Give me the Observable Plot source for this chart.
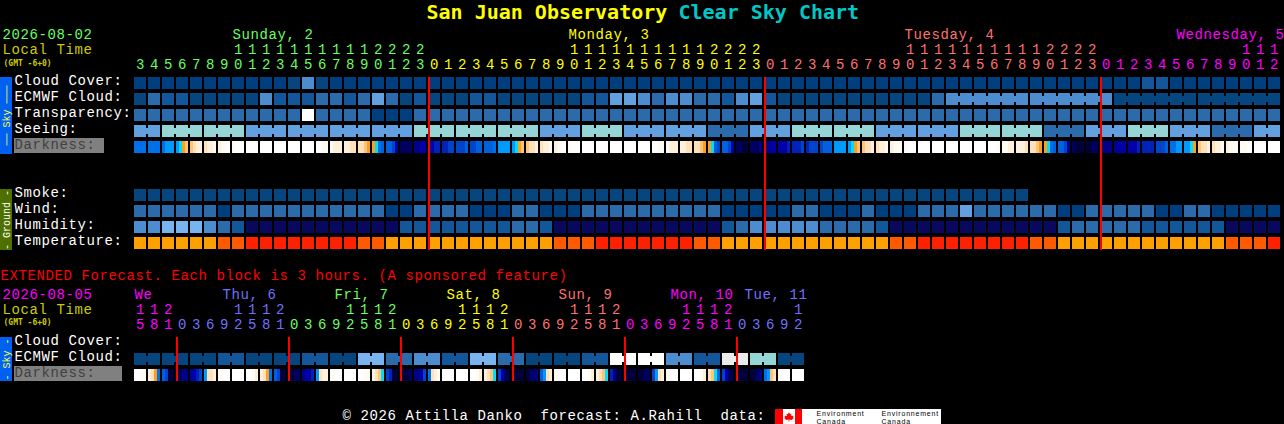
<!DOCTYPE html>
<html><head><meta charset="utf-8">
<script src="https://cdn.jsdelivr.net/npm/d3@7"></script>
<script src="https://cdn.jsdelivr.net/npm/@observablehq/plot@0.6"></script>
<style>html,body{margin:0;padding:0;background:#000;overflow:hidden}svg{display:block}svg text{white-space:pre}.wide{letter-spacing:.6px}.logo{letter-spacing:.8px}</style>
</head><body><div id="chart"></div>
<script>
// ---- block levels (index into the block palette)
const blockColors = ["#003f7f","#07457f","#13569a","#2c6bab","#4d8ccf","#63a0e0","#78b4f0","#95d5d5","#ebebeb","#ffffff","#08085f","#ffa000","#ff5a00","#ff2000"];
const darkColors = ["#00003a","#000060","#000088","#0000aa","#0022bb","#0044cc","#0060dd","#0070e8","#0099ff","#00ddff","#ff9e1a","#ffc478","#ffe0b8","#fff0dc","#fffaf2","#ffffff"];

const cloudCover = [0,0,0,0,0,0,0,0,0,0,0,1,4,1,0,0,0,0,0,0,0,
  0,0,0,0,0,0,0,0,0,0,0,0,0,0,0,0,0,0,0,0,0,0,0,0,
  0,0,0,0,0,0,0,0,0,0,0,0,0,0,0,0,0,0,0,0,0,0,0,0,
  0,0,0,2,2,0,0,0,0,0,0,0,0];
const ecmwfCloud = [1,3,2,2,1,1,1,1,1,4,2,2,2,3,3,2,3,5,3,1,2,
  1,1,1,2,2,1,1,1,1,1,1,2,2,5,5,4,3,4,4,3,3,2,4,5,
  2,1,1,1,1,1,1,1,1,1,1,1,3,4,4,4,4,4,4,4,4,4,4,4,
  4,1,1,1,1,1,1,1,1,1,1,1,1];
const ecmwfSpans = [[58,6],[64,6],[70,6],[76,6]];
const transparency = [3,3,3,3,3,3,3,3,3,3,3,3,9,3,3,3,3,0,0,0,3,
  3,3,3,3,3,3,3,3,3,3,3,3,3,3,3,3,3,3,3,3,3,3,3,3,
  3,3,3,3,3,3,3,3,3,3,3,3,3,3,3,3,3,3,3,3,3,3,3,3,
  3,3,3,3,3,3,3,3,3,3,3,3,3];
const seeingSpans = [2,3,3,3,3,3,3,3,3,3,3,3,3,3,3,3,3,3,3,3,3,3,3,3,3,3,3,2];
const seeingLevels = [5,7,7,5,5,5,5,7,7,7,5,7,5,5,3,5,7,7,5,5,7,7,3,5,7,5,3,5];
const smoke = [1,1,1,1,1,1,1,1,1,1,1,1,1,1,1,1,1,1,1,1,1,
  1,1,1,1,1,1,1,1,1,1,1,1,1,1,1,1,1,1,1,1,1,1,1,1,
  1,1,1,1,1,1,1,1,1,1,1,1,1,1,1,1,1,1,1];
const wind = [3,3,3,3,3,3,0,3,3,3,3,3,3,3,3,3,3,3,0,0,3,
  3,3,3,0,0,0,3,3,0,0,0,3,3,3,3,3,3,3,3,3,3,0,0,0,
  0,0,3,3,0,0,0,3,0,0,0,3,3,3,5,3,3,3,3,3,3,0,0,3,
  3,3,3,3,0,0,3,3,0,0,0,0,0];
const humidity = [4,4,6,6,6,4,3,2,10,10,10,10,10,10,10,10,10,10,10,2,2,
  2,2,2,2,2,2,3,3,2,10,10,10,10,10,10,10,10,10,10,10,10,2,3,4,
  4,4,4,4,3,3,3,3,2,10,10,10,10,10,10,10,10,10,10,10,10,2,3,3,
  3,3,3,2,2,2,2,2,2,10,10,10,10];
const temperature = [11,11,11,11,11,11,12,12,13,13,13,13,13,13,13,13,12,12,11,11,11,
  11,11,11,11,11,11,11,11,11,12,12,12,13,13,13,13,13,13,13,12,12,11,11,11,
  11,11,11,11,11,11,11,11,11,12,12,13,13,13,13,13,13,13,13,12,12,11,11,11,
  11,11,11,11,11,11,11,11,11,12,12,12,13];
// darkness: four samples across each block (index into dark palette)
const darkness = [
  7,7,7,7, 7,7,7,7, 7,8,8,8, 8,9,10,11, 11,12,13,13, 12,13,13,14, 13,14,14,15, 14,15,15,15,
  15,15,15,15, 15,15,15,15, 15,15,15,15, 15,15,15,15, 15,15,15,15, 15,15,14,14, 14,13,13,13,
  13,13,12,12, 12,12,11,10, 10,9,7,6, 6,6,5,3, 1,1,1,1, 2,2,3,3,
  3,3,4,4, 4,4,5,5, 5,5,5,6, 5,5,6,6, 6,6,6,7, 8,8,8,8, 8,9,10,11, 11,12,12,13,
  12,13,13,14, 13,14,14,15, 14,15,15,15, 15,15,15,15, 15,15,15,15, 15,15,15,15, 15,15,15,15, 15,15,15,15,
  15,15,14,14, 14,13,13,13, 13,13,12,12, 12,12,11,10, 10,9,6,5, 6,6,5,3, 1,1,0,0, 1,1,1,2,
  2,2,3,3, 3,3,3,4, 4,4,4,5, 4,5,5,5, 5,6,6,6, 8,8,8,8, 8,9,10,11,
  11,12,12,13, 12,13,13,14, 13,14,14,14, 14,15,15,15, 15,15,15,15, 15,15,15,15, 15,15,15,15, 15,15,15,15, 15,15,15,15,
  15,15,15,14, 14,14,13,13, 13,13,13,12, 12,12,11,10, 10,9,7,6, 6,6,5,2, 1,0,0,0, 0,0,1,1,
  1,2,2,2, 2,3,3,3, 3,3,3,4, 4,4,4,4, 5,5,5,6, 7,7,8,8, 8,8,9,10, 11,12,12,13, 12,13,13,14, 13,14,14,14, 14,14,15,15, 15,15,15,15, 15,15,15,15];
const extEcmwfSpans = [2,2,2,2,2,2,2,2,2,2,2,2,2,2,2,2,2,2,2,2,2,2,2,2];
const extEcmwfLevels = [1,1,1,2,1,1,2,1,6,3,4,2,6,3,1,1,2,9,9,4,2,8,7,1];
const extDarkness = [
  15,15,14,14, 13,12,10,7, 6,5,0,0, 0,1,2,2, 3,3,4,5, 8,12,12,13, 14,15,15,15, 15,15,15,15,
  15,15,14,13, 13,12,10,7, 6,5,0,0, 0,0,1,1, 2,3,3,4, 8,12,13,13, 14,15,15,15, 15,15,15,15,
  15,15,14,14, 13,12,11,9, 5,4,0,0, 0,0,0,1, 2,2,3,5, 7,12,13,14, 15,15,15,15, 15,15,15,15,
  15,15,14,13, 13,12,11,9, 5,3,1,0, 0,0,0,0, 0,1,1,2, 6,8,12,13, 14,15,15,15, 15,15,15,15,
  15,15,14,13, 13,12,11,9, 4,2,0,0, 0,0,0,0, 0,0,1,1, 5,8,12,13, 14,15,15,15, 15,15,15,15,
  15,15,14,13, 12,11,9,6, 5,3,1,0, 0,0,0,0, 0,0,1,2, 7,8,11,12, 14,15,15,15, 15,15,15,15];

// ---- tick labels
const mainHours = [3,4,5,6,7,8,9,10,11,12,13,14,15,16,17,18,19,20,21,22,23,
  0,1,2,3,4,5,6,7,8,9,10,11,12,13,14,15,16,17,18,19,20,21,22,23,
  0,1,2,3,4,5,6,7,8,9,10,11,12,13,14,15,16,17,18,19,20,21,22,23,
  0,1,2,3,4,5,6,7,8,9,10,11,12];
const extHours = [15,18,21,0,3,6,9,12,15,18,21,0,3,6,9,12,15,18,21,0,3,6,9,12,15,18,21,0,3,6,9,12,15,18,21,0,3,6,9,12,15,18,21,0,3,6,9,12];
const GREEN="#66ff66",YEL="#ffff00",SAL="#ff7070",MAG="#ff00ff",PER="#7070ff";
const mainDays = [["Sunday, 2",232,GREEN,0,21],["Monday, 3",568,YEL,21,45],["Tuesday, 4",904,SAL,45,69],["Wednesday, 5",1176,MAG,69,82]];
const extDays = [["We",134,MAG,0,3],["Thu, 6",222,PER,3,11],["Fri, 7",334,GREEN,11,19],["Sat, 8",446,YEL,19,27],["Sun, 9",558,SAL,27,35],["Mon, 10",670,MAG,35,43],["Tue, 11",744,PER,43,48]];
const mainBoundaries = [21,45,69];
const extBoundaries = [3,11,19,27,35,43];
const skyLabels = ["Cloud Cover:","ECMWF Cloud:","Transparency:","Seeing:"];
const groundLabels = ["Smoke:","Wind:","Humidity:","Temperature:"];

// ---- layout helpers: blocks live on a 14x16 px grid
const CW=14,RH=16,X0=134,Y0=77,EXT=16.25,GND=7;
const colOf = px => (px-X0)/CW;
const rowOf = py => (py-Y0)/RH;
const MONO = "'Liberation Mono', monospace";
const TFONT = {fontFamily:MONO,fontSize:14,className:"wide",dy:-1.5};

const blockCells = (values,row) => values.map((level,col)=>({col,row,level}));
const spansFrom = (spans,start=0) => { let c=start; return spans.map(n=>{const s=[c,n]; c+=n; return s;}); };
const seeing = spansFrom(seeingSpans).flatMap(([c,n],i)=>d3.range(n).map(k=>seeingLevels[i])) ;
const extEcmwf = spansFrom(extEcmwfSpans).flatMap(([c,n],i)=>d3.range(n).map(k=>extEcmwfLevels[i]));
const bridgeCells = (spans,values,row) => spans.flatMap(([c,n])=>d3.range(c,c+n-1).map(col=>({col,row,level:values[col]})));

const blocks = [
  ...blockCells(cloudCover,0),...blockCells(ecmwfCloud,1),...blockCells(transparency,2),...blockCells(seeing,3),
  ...blockCells(smoke,GND),...blockCells(wind,GND+1),...blockCells(humidity,GND+2),...blockCells(temperature,GND+3),
  ...blockCells(extEcmwf,EXT+1)
];
const bridges = [
  ...bridgeCells(ecmwfSpans,ecmwfCloud,1),
  ...bridgeCells(spansFrom(seeingSpans),seeing,3),
  ...bridgeCells(spansFrom(extEcmwfSpans),extEcmwf,EXT+1)
];
const darkCells = (samples,row) => samples.map((v,i)=>({col:Math.floor(i/4),s:i%4,row,level:100+v}));
const darks = [...darkCells(darkness,4),...darkCells(extDarkness,EXT+2)];
const SUB = 3/CW;

const txt = (text,px,base,color,opts={}) => Plot.text([text],{
  x:()=>colOf(px), y:()=>rowOf(base), text:d=>d, fill:color, textAnchor:"start", lineAnchor:"bottom",
  ...TFONT, ...opts});
const rowLabels = (labels,startBase) => labels.map((l,i)=>txt(l,14,startBase+i*RH,"#ffffff"));

const hourMarks = (hours,days,tensBase,unitsBase) => days.flatMap(([,,color,a,b])=>{
  const idx=d3.range(a,b);
  return [
    Plot.text(idx.filter(i=>hours[i]>=10),{x:i=>i+6/CW,y:()=>rowOf(tensBase),text:i=>String(Math.floor(hours[i]/10)),fill:color,lineAnchor:"bottom",...TFONT}),
    Plot.text(idx,{x:i=>i+6/CW,y:()=>rowOf(unitsBase),text:i=>String(hours[i]%10),fill:color,lineAnchor:"bottom",...TFONT})
  ];
});
const dayMarks = (days,base) => days.map(([l,px,color])=>txt(l,px,base,color));
const boxRect = (x1,x2,y1,y2,fill) => Plot.rect([0],{x1:()=>colOf(x1),x2:()=>colOf(x2),y1:()=>rowOf(y1),y2:()=>rowOf(y2),fill,shapeRendering:"crispEdges"});
const vert = (text,py,color) => Plot.text([text],{x:()=>colOf(6),y:()=>rowOf(py),text:d=>d,rotate:-90,fill:color,fontFamily:"'Liberation Mono', monospace",fontSize:10});
const BOLD = {fontFamily:"'DejaVu Sans Mono', monospace",fontWeight:"bold",fontSize:20,className:null,dy:0};
const SMALL = {fontFamily:"'DejaVu Sans Mono', monospace",fontWeight:"bold",fontSize:8,className:null,dy:0};
const LOGO = {fontSize:7,fontFamily:"'Liberation Sans',sans-serif",className:"logo",dy:0};

// maple leaf as a custom symbol
const leaf = {draw(ctx,size){const k=Math.sqrt(size)/12;
  const p=[[0,-6],[1.5,-3.5],[3,-4],[2.4,-.8],[3.6,-1.8],[5.6,-.6],[5,1],[5.8,1.6],[3,3.6],[.4,3.2],[.4,6],[-.4,6],[-.4,3.2],[-3,3.6],[-5.8,1.6],[-5,1],[-5.6,-.6],[-3.6,-1.8],[-2.4,-.8],[-3,-4],[-1.5,-3.5]];
  p.forEach(([x,y],i)=>i?ctx.lineTo(x*k,y*k):ctx.moveTo(x*k,y*k));ctx.closePath();}};

const chart = Plot.plot({
  width:1284,height:424,margin:0,
  style:{background:"#000000",color:"#ffffff"},
  x:{axis:null,type:"linear",domain:[colOf(0),colOf(1284)],range:[0,1284]},
  y:{axis:null,type:"linear",domain:[rowOf(0),rowOf(424)],range:[0,424]},
  color:{type:"ordinal",domain:[...blockColors.map((_,i)=>i),...darkColors.map((_,i)=>100+i)],range:[...blockColors,...darkColors]},
  marks:[
    // sidebars
    boxRect(0,12,77,154,"#0060f0"),boxRect(0,12,189,250,"#4f6f00"),boxRect(0,12,337,381,"#0060f0"),
    vert("\u2500\u2500 Sky \u2500\u2500\u2500",115,"#ffff40"),vert("- Ground -",219.5,"#ffffff"),vert("- Sky -",359,"#ffff40"),
    boxRect(14,104,138,153,"#808080"),boxRect(14,122,366,381,"#808080"),
    // blocks
    Plot.rect(blocks,{x1:"col",x2:d=>d.col+1,y1:"row",y2:d=>d.row+1,fill:"level",insetRight:2,insetBottom:4,shapeRendering:"crispEdges"}),
    Plot.rect(bridges,{x1:d=>d.col+12/CW,x2:d=>d.col+1,y1:"row",y2:d=>d.row+1,fill:"level",insetTop:3,insetBottom:7,shapeRendering:"crispEdges"}),
    Plot.rect(darks,{x1:d=>d.col+d.s*SUB,x2:d=>d.col+(d.s+1)*SUB,y1:"row",y2:d=>d.row+1,fill:"level",insetBottom:4,shapeRendering:"crispEdges"}),
    // day boundaries
    Plot.ruleX(mainBoundaries,{y1:0,y2:()=>rowOf(250),stroke:"#ff0000",strokeWidth:2,shapeRendering:"crispEdges"}),
    Plot.ruleX(extBoundaries,{y1:EXT,y2:EXT+2.75,stroke:"#ff0000",strokeWidth:2,shapeRendering:"crispEdges"}),
    // title
    txt("San Juan Observatory",426,18,"#ffff00",BOLD),
    txt("Clear Sky Chart",678,18,"#00c8c8",BOLD),
    // main header
    txt("2026-08-02",2,40,GREEN),txt("Local Time",2,55,"#cccc00"),
    txt("(GMT -6+0)",3,65,"#cccc00",SMALL),
    ...dayMarks(mainDays,40),...hourMarks(mainHours,mainDays,55,70),
    // row labels
    ...rowLabels(skyLabels,86),txt("Darkness:",14,150,"#404040"),
    ...rowLabels(groundLabels,198),
    // extended
    txt("EXTENDED Forecast. Each block is 3 hours. (A sponsored feature)",0,281,"#ff0000"),
    txt("2026-08-05",2,300,MAG),txt("Local Time",2,315,"#cccc00"),
    txt("(GMT -6+0)",3,324,"#cccc00",SMALL),
    ...dayMarks(extDays,300),...hourMarks(extHours,extDays,315,330),
    txt("Cloud Cover:",14,346,"#ffffff"),txt("ECMWF Cloud:",14,362,"#ffffff"),txt("Darkness:",14,378,"#404040"),
    // footer
    txt("\u00a9 2026 Attilla Danko  forecast: A.Rahill  data:",342,421,"#ffffff"),
    boxRect(775,941,409,424,"#ffffff"),boxRect(775,782.5,409,424,"#ff0000"),boxRect(795,802,409,424,"#ff0000"),
    Plot.dot([0],{x:()=>colOf(788.5),y:()=>rowOf(416.5),r:5.5,symbol:leaf,fill:"#ff0000",stroke:"none"}),
    txt("Environment",816,415.5,"#000000",LOGO),
    txt("Canada",816,423.5,"#000000",LOGO),
    txt("Environnement",881,415.5,"#000000",LOGO),
    txt("Canada",881,423.5,"#000000",LOGO)
  ]
});
document.getElementById("chart").appendChild(chart);
</script></body></html>
